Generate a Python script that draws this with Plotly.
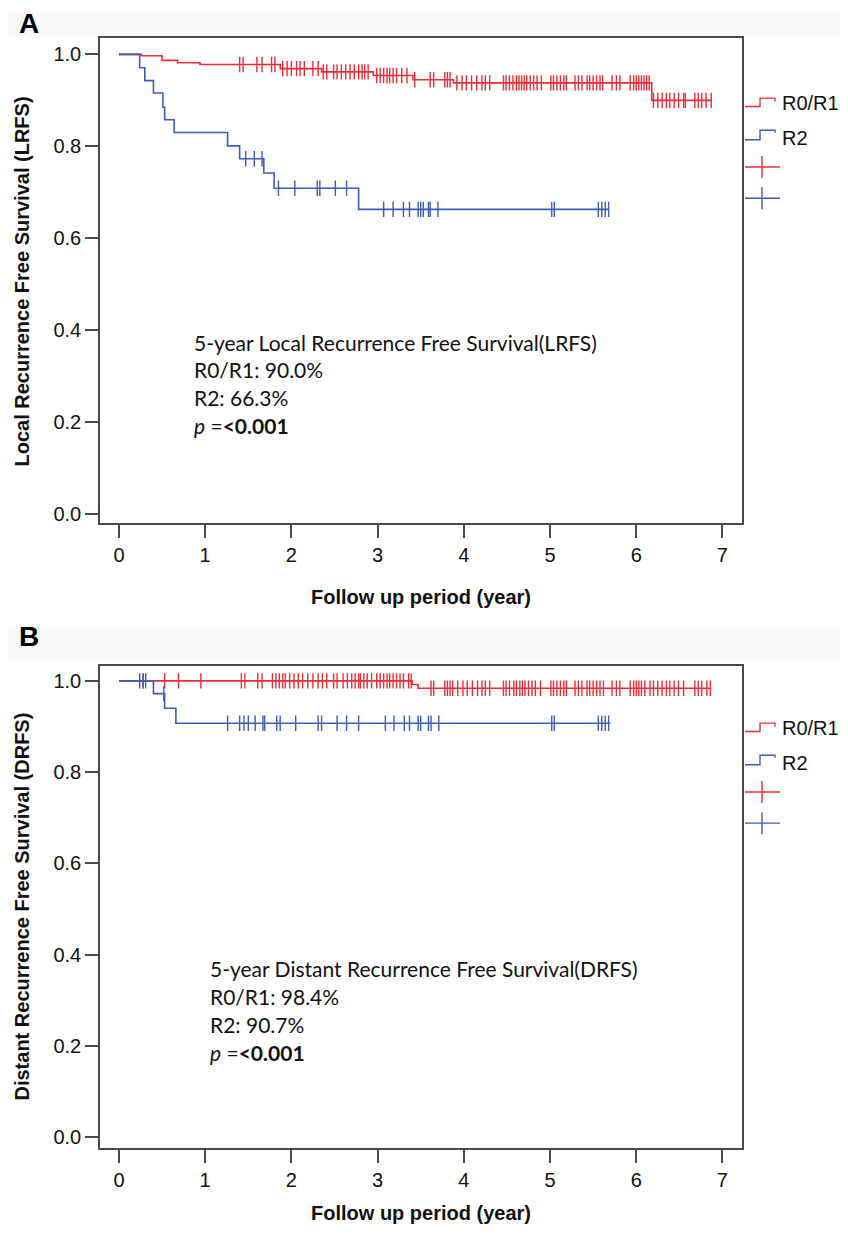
import plotly.graph_objects as go

# reference canvas size; the page adds an 8px body margin, so the figure is
# drawn 16px smaller and every pixel coordinate is shifted by that margin
W, H = 848, 1237
OFF = 8
FW, FH = W - 2 * OFF, H - 2 * OFF

# ---------------- Panel A : Local Recurrence Free Survival ----------------
a_r01_event_t = [0.26, 0.50, 0.68, 0.94, 1.87, 2.35, 2.95, 3.41, 3.88, 6.18]
a_r01_event_s = [0.997, 0.987, 0.982, 0.978, 0.969, 0.962, 0.954, 0.945, 0.938, 0.900]
a_r01_end = 6.88
a_r01_cens = [1.40, 1.44, 1.60, 1.66, 1.77, 1.81, 1.90, 1.95, 2.00, 2.06, 2.10, 2.15,
              2.25, 2.31, 2.37, 2.41, 2.49, 2.53, 2.58, 2.63, 2.68, 2.73, 2.78, 2.82,
              2.85, 2.89, 2.99, 3.03, 3.07, 3.11, 3.14, 3.18, 3.22, 3.28, 3.34, 3.43,
              3.61, 3.65, 3.78, 3.81, 3.84, 3.92, 3.98, 4.03, 4.09, 4.15, 4.21, 4.25,
              4.30, 4.46, 4.49, 4.53, 4.57, 4.61, 4.64, 4.67, 4.70, 4.73, 4.77, 4.81,
              4.85, 4.90, 5.01, 5.04, 5.08, 5.12, 5.16, 5.19, 5.29, 5.33, 5.37, 5.43,
              5.46, 5.50, 5.54, 5.58, 5.61, 5.72, 5.77, 5.81, 5.93, 5.97, 6.00, 6.03,
              6.06, 6.09, 6.12, 6.15, 6.20, 6.25, 6.30, 6.35, 6.39, 6.44, 6.49, 6.55,
              6.57, 6.68, 6.72, 6.76, 6.81, 6.87]

a_r2_event_t = [0.24, 0.30, 0.40, 0.51, 0.53, 0.64, 1.26, 1.40, 1.68, 1.80, 2.78]
a_r2_event_s = [0.971, 0.943, 0.916, 0.885, 0.858, 0.830, 0.801, 0.773, 0.742, 0.709, 0.663]
a_r2_end = 5.68
a_r2_cens = [1.47, 1.57, 1.66, 1.85, 2.04, 2.30, 2.33, 2.51, 2.64, 3.07, 3.18, 3.30,
             3.37, 3.47, 3.50, 3.53, 3.59, 3.61, 3.70, 5.02, 5.05, 5.56, 5.60, 5.64, 5.68]

# ---------------- Panel B : Distant Recurrence Free Survival ----------------
b_r01_event_t = [3.40, 3.47]
b_r01_event_s = [0.992, 0.984]
b_r01_end = 6.87
b_r01_cens = [0.28, 0.53, 0.69, 0.95, 1.42, 1.46, 1.61, 1.66, 1.78, 1.82, 1.86, 1.90,
              1.93, 1.98, 2.03, 2.08, 2.13, 2.19, 2.25, 2.31, 2.36, 2.41, 2.49, 2.53,
              2.60, 2.65, 2.70, 2.74, 2.78, 2.80, 2.84, 2.88, 2.93, 2.99, 3.03, 3.07,
              3.11, 3.14, 3.18, 3.22, 3.26, 3.30, 3.36, 3.39, 3.62, 3.65, 3.78, 3.81,
              3.84, 3.87, 3.93, 3.99, 4.04, 4.10, 4.16, 4.21, 4.25, 4.30, 4.46, 4.49,
              4.53, 4.58, 4.61, 4.65, 4.68, 4.71, 4.75, 4.79, 4.83, 4.89, 5.01, 5.04,
              5.08, 5.12, 5.16, 5.19, 5.29, 5.33, 5.37, 5.43, 5.46, 5.50, 5.54, 5.58,
              5.62, 5.72, 5.77, 5.81, 5.93, 5.97, 6.00, 6.03, 6.06, 6.10, 6.16, 6.20,
              6.25, 6.30, 6.35, 6.39, 6.44, 6.49, 6.55, 6.68, 6.72, 6.76, 6.82, 6.86]

b_r2_event_t = [0.40, 0.53, 0.66]
b_r2_event_s = [0.972, 0.940, 0.907]
b_r2_end = 5.70
b_r2_cens = [0.24, 0.28, 0.31, 0.52, 1.26, 1.40, 1.45, 1.50, 1.58, 1.67, 1.69, 1.83,
             1.87, 2.05, 2.31, 2.35, 2.53, 2.64, 2.78, 3.09, 3.19, 3.31, 3.37, 3.47,
             3.50, 3.59, 3.62, 3.71, 5.02, 5.05, 5.56, 5.60, 5.64, 5.68]

x_ticks = [0, 1, 2, 3, 4, 5, 6, 7]
y_ticks = [0.0, 0.2, 0.4, 0.6, 0.8, 1.0]
y_tick_labels = ["0.0", "0.2", "0.4", "0.6", "0.8", "1.0"]
group_names = ["R0/R1", "R2"]

RED = "#ee2c36"
BLUE = "#3d5cb6"
AXC = "#4a4a4a"


def surv_at(t, ev_t, ev_s):
    s = 1.0
    for et, es in zip(ev_t, ev_s):
        if et <= t:
            s = es
    return s


def xp(X):
    return (X - OFF) / FW


def yp(Y):
    return 1 - (Y - OFF) / FH


fig = go.Figure()

panels = [
    dict(xa="x", ya="y",
         groups=[(a_r01_event_t, a_r01_event_s, a_r01_end, a_r01_cens, RED),
                 (a_r2_event_t, a_r2_event_s, a_r2_end, a_r2_cens, BLUE)]),
    dict(xa="x2", ya="y2",
         groups=[(b_r01_event_t, b_r01_event_s, b_r01_end, b_r01_cens, RED),
                 (b_r2_event_t, b_r2_event_s, b_r2_end, b_r2_cens, BLUE)]),
]

for p in panels:
    for (ev_t, ev_s, end, cens, col), name in zip(p["groups"], group_names):
        xs = [0.0] + list(ev_t) + [end]
        ys = [1.0] + list(ev_s) + [ev_s[-1]]
        fig.add_trace(go.Scatter(x=xs, y=ys, mode="lines", line_shape="hv",
                                 line=dict(color=col, width=1.6), name=name,
                                 xaxis=p["xa"], yaxis=p["ya"], showlegend=False,
                                 hoverinfo="skip"))
        fig.add_trace(go.Scatter(x=cens, y=[surv_at(c, ev_t, ev_s) for c in cens],
                                 mode="markers",
                                 marker=dict(symbol="line-ns", size=11,
                                             line=dict(color=col, width=1.4)),
                                 xaxis=p["xa"], yaxis=p["ya"], showlegend=False,
                                 hoverinfo="skip"))

# pixel geometry of the two plot boxes (reference pixels)
boxA = dict(l=100, r=742, t=38, b=524)
boxB = dict(l=100, r=742, t=667, b=1150)

tickfont = dict(family="Liberation Sans, Arial, sans-serif", size=20, color="#111")
common_x = dict(range=[-0.22, 7.227], tickvals=x_ticks, ticks="outside", ticklen=13,
                tickwidth=1.5, tickcolor=AXC, showline=True, linecolor=AXC, linewidth=1.5,
                mirror=True, showgrid=False, zeroline=False, tickfont=tickfont)
common_y = dict(tickvals=y_ticks, ticktext=y_tick_labels, ticks="outside", ticklen=13,
                tickwidth=1.5, tickcolor=AXC, showline=True, linecolor=AXC, linewidth=1.5,
                mirror=True, showgrid=False, zeroline=False, tickfont=tickfont)

fig.update_layout(
    width=FW, height=FH, margin=dict(l=0, r=0, t=0, b=0),
    paper_bgcolor="white", plot_bgcolor="white", showlegend=False,
    xaxis=dict(domain=[xp(boxA["l"]), xp(boxA["r"])], anchor="y", **common_x),
    yaxis=dict(domain=[yp(boxA["b"]), yp(boxA["t"])], anchor="x",
               range=[-0.0195, 1.0358], **common_y),
    xaxis2=dict(domain=[xp(boxB["l"]), xp(boxB["r"])], anchor="y2", **common_x),
    yaxis2=dict(domain=[yp(boxB["b"]), yp(boxB["t"])], anchor="x2",
                range=[-0.024, 1.0328], **common_y),
)

shapes = []
# faint background bands of the original figure
shapes.append(dict(type="rect", xref="paper", yref="paper", x0=0, x1=1,
                   y0=yp(36), y1=yp(12), fillcolor="#f9f8fa", line=dict(width=0),
                   layer="below"))
shapes.append(dict(type="rect", xref="paper", yref="paper", x0=0, x1=1,
                   y0=yp(662), y1=yp(628), fillcolor="#f9f8fa", line=dict(width=0),
                   layer="below"))

annotations = []
xtitle_font = dict(family="Liberation Sans, Arial, sans-serif", size=20, color="#111")
ytitle_font = dict(family="Liberation Sans, Arial, sans-serif", size=20, color="#111")
label_font = dict(family="Liberation Sans, Arial, sans-serif", size=20, color="#111")
note_font = dict(family="Lato, sans-serif", size=21, color="#111")

legend_layout = [
    dict(dy=0, title="Local Recurrence Free Survival (LRFS)", ylab_y=282, xlab_y=598,
         letter="A", letter_y=24,
         notes=["5-year Local Recurrence Free Survival(LRFS)", "R0/R1: 90.0%",
                "R2: 66.3%", "<i>p</i> =<b>&lt;0.001</b>"],
         note_x=192, note_y=[343, 370, 398, 426], box=boxA),
    dict(dy=626, title="Distant Recurrence Free Survival (DRFS)", ylab_y=908, xlab_y=1215,
         letter="B", letter_y=638,
         notes=["5-year Distant Recurrence Free Survival(DRFS)", "R0/R1: 98.4%",
                "R2: 90.7%", "<i>p</i> =<b>&lt;0.001</b>"],
         note_x=208, note_y=[970, 998, 1026, 1054], box=boxB),
]

for L in legend_layout:
    dy = L["dy"]
    cx = (L["box"]["l"] + L["box"]["r"]) / 2
    # axis titles
    annotations.append(dict(xref="paper", yref="paper", x=xp(cx), y=yp(L["xlab_y"]),
                            text="<b>Follow up period (year)</b>", showarrow=False,
                            font=xtitle_font, xanchor="center", yanchor="middle"))
    annotations.append(dict(xref="paper", yref="paper", x=xp(22), y=yp(L["ylab_y"]),
                            text="<b>" + L["title"] + "</b>", showarrow=False,
                            font=ytitle_font, textangle=-90, xanchor="center",
                            yanchor="middle"))
    annotations.append(dict(xref="paper", yref="paper", x=xp(29), y=yp(L["letter_y"]),
                            text="<b>" + L["letter"] + "</b>", showarrow=False,
                            font=dict(family="Liberation Sans, Arial, sans-serif",
                                      size=28, color="#000"),
                            xanchor="center", yanchor="middle"))
    for txt, ny in zip(L["notes"], L["note_y"]):
        annotations.append(dict(xref="paper", yref="paper", x=xp(L["note_x"]), y=yp(ny),
                                text=txt, showarrow=False, font=note_font,
                                xanchor="left", yanchor="middle"))
    # legend: step icons and censor icons
    for col, ylow, yhigh, yend, name, ty in [(RED, 106.7, 98.3, 102, "R0/R1", 103),
                                             (BLUE, 140, 130.5, 133, "R2", 138)]:
        pts = [(745, ylow + dy), (760, ylow + dy), (760, yhigh + dy), (775, yhigh + dy),
               (775, yend + dy)]
        path = "M " + " L ".join(f"{xp(a)},{yp(b)}" for a, b in pts)
        shapes.append(dict(type="path", xref="paper", yref="paper", path=path,
                           line=dict(color=col, width=1.4)))
        annotations.append(dict(xref="paper", yref="paper", x=xp(780), y=yp(ty + dy),
                                text=name, showarrow=False, font=label_font,
                                xanchor="left", yanchor="middle"))
    for col, yc in [(RED, 167.3), (BLUE, 198.5)]:
        shapes.append(dict(type="line", xref="paper", yref="paper", x0=xp(745), x1=xp(780),
                           y0=yp(yc + dy), y1=yp(yc + dy), line=dict(color=col, width=1.4)))
        shapes.append(dict(type="line", xref="paper", yref="paper", x0=xp(762), x1=xp(762),
                           y0=yp(yc - 11 + dy), y1=yp(yc + 11 + dy),
                           line=dict(color=col, width=1.4)))

fig.update_layout(shapes=shapes, annotations=annotations)
fig.write_html("out.html")
